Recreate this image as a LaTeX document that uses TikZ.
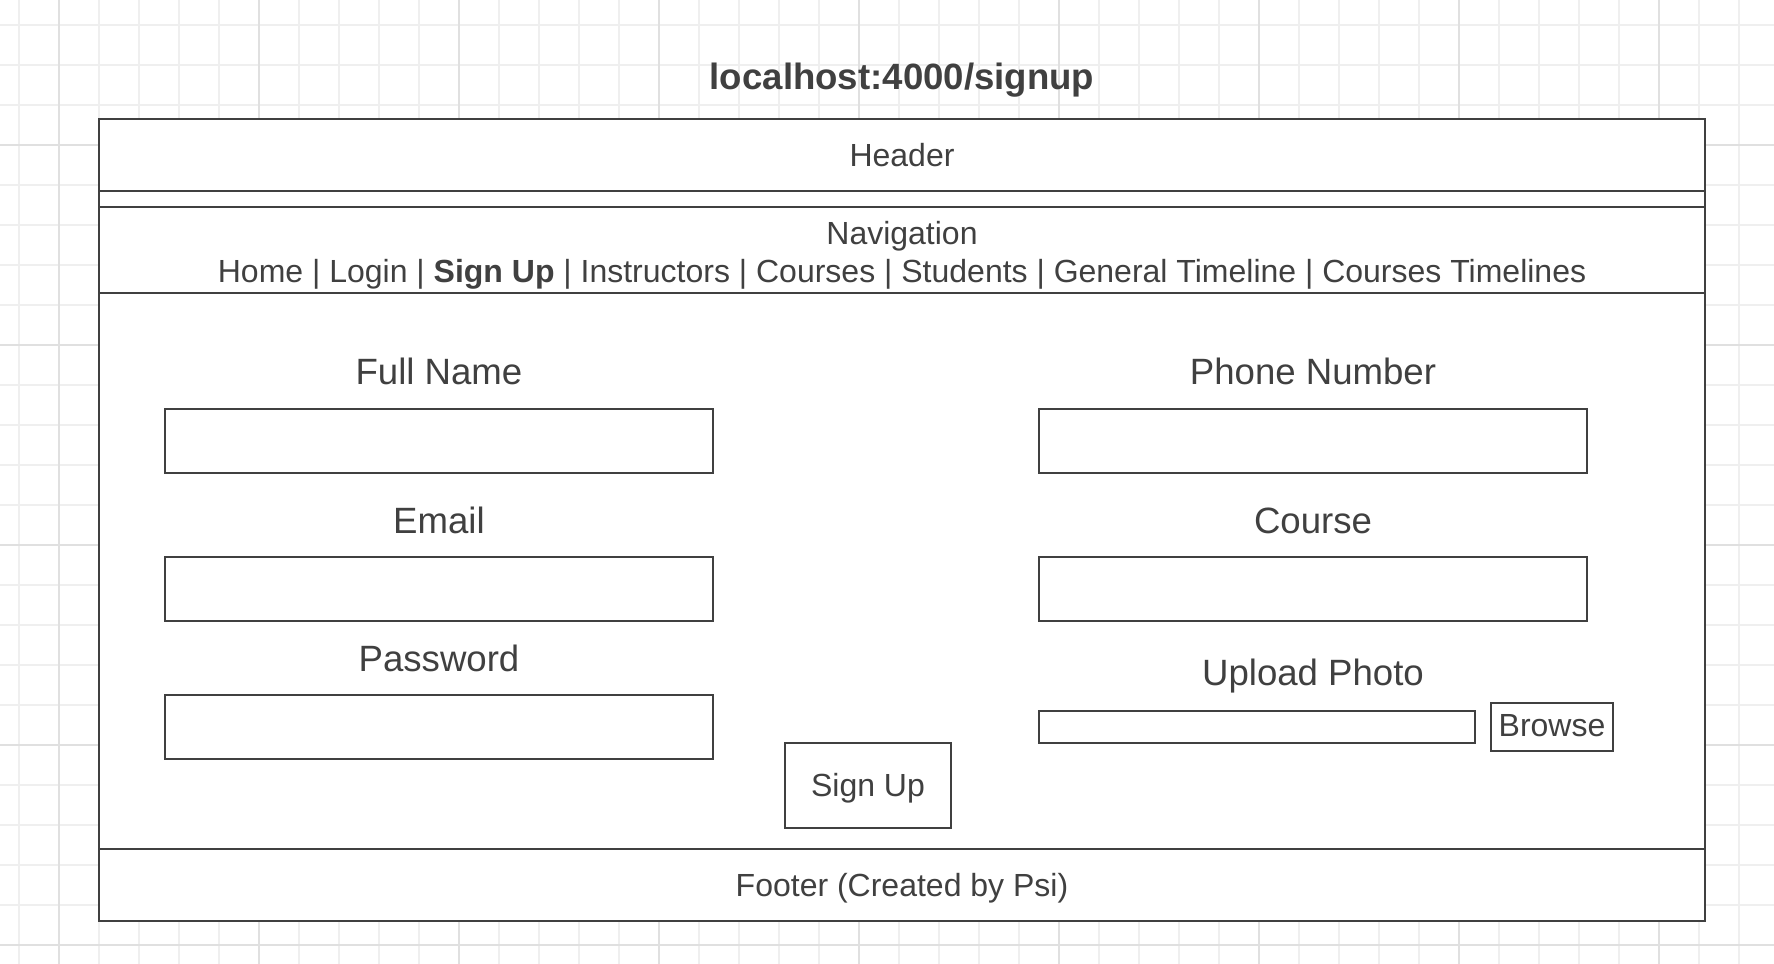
\documentclass[tikz,border=0pt]{standalone}
\usepackage{fontspec}
\setmainfont{Liberation Sans}
\definecolor{ink}{HTML}{404040}
\definecolor{gridminor}{HTML}{EFEFEF}
\definecolor{gridmajor}{HTML}{E0E0E0}
\begin{document}
\begin{tikzpicture}[x=0.5pt,y=-0.5pt,
  frame/.style={draw=ink,line width=1pt},
  gridline/.style={line width=0.65pt},
  lbl/.style={anchor=base,inner sep=0pt,text=ink,font=\fontsize{18.3}{22}\selectfont},
  sm/.style={anchor=base,inner sep=0pt,text=ink,font=\fontsize{16}{19.2}\selectfont},
  ttl/.style={anchor=base,inner sep=0pt,text=ink,font=\bfseries\fontsize{18.3}{22}\selectfont},
]
\useasboundingbox (0,0) rectangle (1774,964);
\fill[white] (0,0) rectangle (1774,964);
% grid
\foreach \x in {19,59,...,1739} \draw[gridline,gridminor] (\x,0) -- (\x,964);
\foreach \y in {25,65,...,945} \draw[gridline,gridminor] (0,\y) -- (1774,\y);
\foreach \x in {59,259,...,1659} \draw[gridline,gridmajor] (\x,0) -- (\x,964);
\foreach \y in {145,345,...,945} \draw[gridline,gridmajor] (0,\y) -- (1774,\y);

% title
\node[ttl] (title) at (902,89) {localhost:4000/signup};

% page frame
\draw[frame,fill=white] (99,119) rectangle (1705,921);
\draw[frame] (99,191) -- (1705,191);
\draw[frame] (99,207) -- (1705,207);
\draw[frame] (99,293) -- (1705,293);
\draw[frame] (99,849) -- (1705,849);

% header / navigation / footer
\node[sm] (header) at (902,166) {Header};
\node[sm] (nav) at (902,244) {Navigation};
\node[sm] (navlinks) at (902,282) {Home | Login | \textbf{Sign Up} | Instructors | Courses | Students | General Timeline | Courses Timelines};
\node[sm] (footer) at (902,896) {Footer (Created by Psi)};

% left column
\node[lbl] (fullname) at (439,384) {Full Name};
\draw[frame] (165,409) rectangle (713,473);
\node[lbl] (email) at (439,533) {Email};
\draw[frame] (165,557) rectangle (713,621);
\node[lbl] (password) at (439,671) {Password};
\draw[frame] (165,695) rectangle (713,759);

% right column
\node[lbl] (phone) at (1313,384) {Phone Number};
\draw[frame] (1039,409) rectangle (1587,473);
\node[lbl] (course) at (1313,533) {Course};
\draw[frame] (1039,557) rectangle (1587,621);
\node[lbl] (upload) at (1313,685) {Upload Photo};
\draw[frame] (1039,711) rectangle (1475,743);
\draw[frame] (1491,703) rectangle (1613,751);
\node[sm] (browse) at (1552,736) {Browse};

% sign up button
\draw[frame] (785,743) rectangle (951,828);
\node[sm] (signup) at (868,796) {Sign Up};
\end{tikzpicture}
\end{document}
